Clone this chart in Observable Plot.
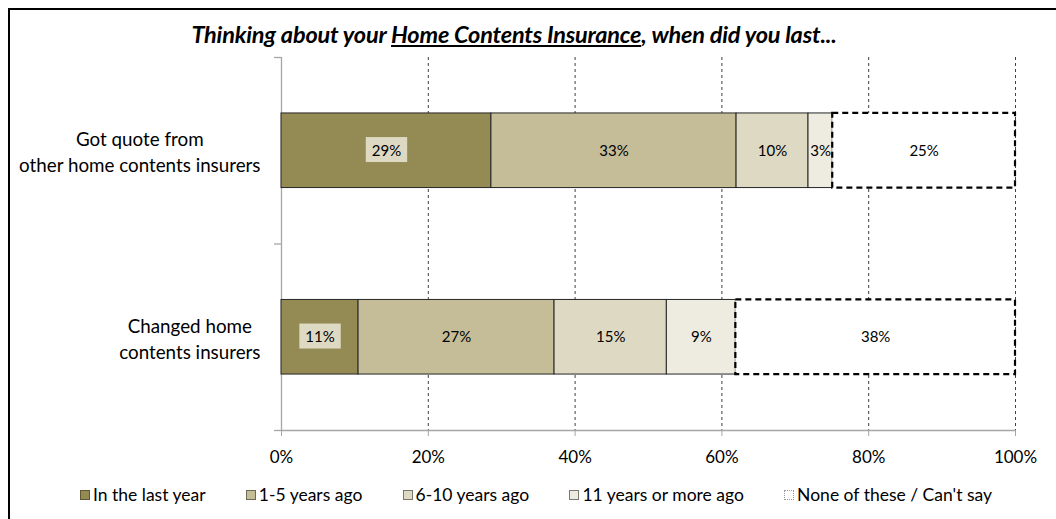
<!DOCTYPE html>
<html><head><meta charset="utf-8">
<script src="https://cdn.jsdelivr.net/npm/d3@7"></script>
<script src="https://cdn.jsdelivr.net/npm/@observablehq/plot@0.6"></script>
<style>
body{margin:0;width:1056px;height:519px;overflow:hidden;background:#fff;font-family:Lato,"Open Sans",sans-serif;color:#000;}
#wrap{position:relative;width:1056px;height:519px;overflow:hidden;}
#frame{position:absolute;left:8px;top:8px;width:1200px;height:700px;border:2.5px solid #000;box-sizing:border-box;}
#title{position:absolute;left:0;width:1028px;top:20px;text-align:center;font-weight:bold;font-style:italic;font-size:23.5px;line-height:28px;white-space:nowrap;letter-spacing:-0.2px;}
#chart{position:absolute;left:0;top:0;}
#legend{position:absolute;top:484px;left:80px;width:912px;display:flex;justify-content:space-between;font-size:17.5px;line-height:22px;white-space:nowrap;}
.item{display:flex;align-items:center;}
.sw{display:inline-block;width:10px;height:10px;margin-right:3px;box-sizing:border-box;}
</style></head>
<body><div id="wrap"><div id="frame"></div><div id="chart"></div><div id="title">Thinking about your <u>Home Contents Insurance</u>, when did you last...</div><div id="legend"></div></div>
<script>
// ---- data ----
const questions = ["Got quote from\nother home contents insurers", "Changed home\ncontents insurers"];
const series = ["In the last year", "1-5 years ago", "6-10 years ago", "11 years or more ago", "None of these / Can't say"];
const inTheLastYear = [28.6, 10.5];
const oneToFiveYears = [33.4, 26.7];
const sixToTenYears = [9.8, 15.3];
const elevenPlusYears = [3.3, 9.4];
const noneCantSay = [24.9, 38.1];
const xTicks = [0, 20, 40, 60, 80, 100];
const colors = ["#948A54", "#C4BD97", "#DDD9C3", "#EEECE1", "#FFFFFF"];
const swatchBorders = ["#5f5833", "#6f6a55", "#7a776a", "#7a7a74", "#9a9a9a"];

// ---- build table ----
const seriesValues = [inTheLastYear, oneToFiveYears, sixToTenYears, elevenPlusYears, noneCantSay];
const segs = [];
questions.forEach((q, qi) => {
  let acc = 0;
  series.forEach((s, si) => {
    const v = seriesValues[si][qi];
    segs.push({q, qi, series: s, si, value: v, x1: acc, x2: acc + v});
    acc += v;
  });
});
const filled = segs.filter(d => d.si < 4);
const none = segs.filter(d => d.si === 4);
const firstSeg = segs.filter(d => d.si === 0);
const otherSeg = segs.filter(d => d.si > 0);
const fmt = d => Math.round(d.value) + "%";

const gray = "#a6a6a6";
const chart = Plot.plot({
  width: 1056, height: 519,
  marginLeft: 281, marginRight: 41, marginTop: 57, marginBottom: 89,
  style: {fontFamily: "Lato, 'Open Sans', sans-serif", color: "#000", background: "transparent"},
  x: {domain: [0, 100]},
  y: {domain: [0, 2], reverse: true},
  color: {domain: series, range: colors},
  marks: [
    Plot.ruleX(xTicks.filter(t => t > 0), {y1: 0, y2: 2, stroke: "#404040", strokeDasharray: "3,3", strokeWidth: 1}),
    Plot.ruleY([2], {stroke: gray, strokeWidth: 1.3}),
    Plot.ruleX([0], {y1: 0, y2: 2, stroke: gray, strokeWidth: 1.3}),
    Plot.axisY({ticks: [0, 1, 2], tickFormat: () => "", tickSize: 7, stroke: gray, strokeWidth: 1.3}),
    Plot.axisX({ticks: xTicks, tickFormat: d => d + "%", tickSize: 6, tickPadding: 14, fontSize: 17, stroke: gray, fill: "#000"}),
    Plot.rectX(filled, {x1: "x1", x2: "x2", y1: d => d.qi + 0.3, y2: d => d.qi + 0.7, fill: "series", stroke: "#262626", strokeWidth: 1}),
    Plot.rectX(none, {x1: "x1", x2: "x2", y1: d => d.qi + 0.3, y2: d => d.qi + 0.7, fill: "#fff", stroke: "#000", strokeWidth: 2.2, strokeDasharray: "6,4"}),
    Plot.text(firstSeg, {x: d => (d.x1 + d.x2) / 2, y: d => d.qi + 0.5, text: fmt, fontSize: 15, fill: "#000", className: "bglab"}),
    Plot.text(otherSeg, {x: d => (d.x1 + d.x2) / 2, y: d => d.qi + 0.5, text: fmt, fontSize: 15, fill: "#000"}),
    Plot.text(questions, {x: 0, y: (d, i) => i + 0.5, text: d => d, textAnchor: "end", dx: -21, fontSize: 18.8, lineHeight: 1.38, fill: "#000", className: "ylab"})
  ]
});
document.getElementById("chart").appendChild(chart);

// background boxes behind first-segment labels
chart.querySelectorAll(".bglab text").forEach(t => {
  const b = t.getBBox();
  const r = document.createElementNS("http://www.w3.org/2000/svg", "rect");
  r.setAttribute("x", b.x - 6); r.setAttribute("y", b.y - 3.5);
  r.setAttribute("width", b.width + 12); r.setAttribute("height", b.height + 7);
  r.setAttribute("fill", "#DDD9C3");
  if (t.getAttribute("transform")) r.setAttribute("transform", t.getAttribute("transform"));
  t.parentNode.insertBefore(r, t);
});
// center the lines of each multi-line category label
chart.querySelectorAll(".ylab text").forEach(t => {
  const spans = Array.from(t.querySelectorAll("tspan"));
  if (!spans.length) return;
  const ws = spans.map(s => s.getComputedTextLength());
  const m = Math.max(...ws);
  spans.forEach(s => { s.setAttribute("text-anchor", "middle"); s.setAttribute("x", -m / 2); });
});

// legend
const lg = document.getElementById("legend");
series.forEach((s, i) => {
  const it = document.createElement("div"); it.className = "item";
  const sw = document.createElement("span"); sw.className = "sw";
  sw.style.background = colors[i];
  sw.style.border = i === 4 ? "1.5px dotted " + swatchBorders[i] : "1px solid " + swatchBorders[i];
  const tx = document.createElement("span"); tx.textContent = s;
  it.appendChild(sw); it.appendChild(tx); lg.appendChild(it);
});
</script></body></html>
